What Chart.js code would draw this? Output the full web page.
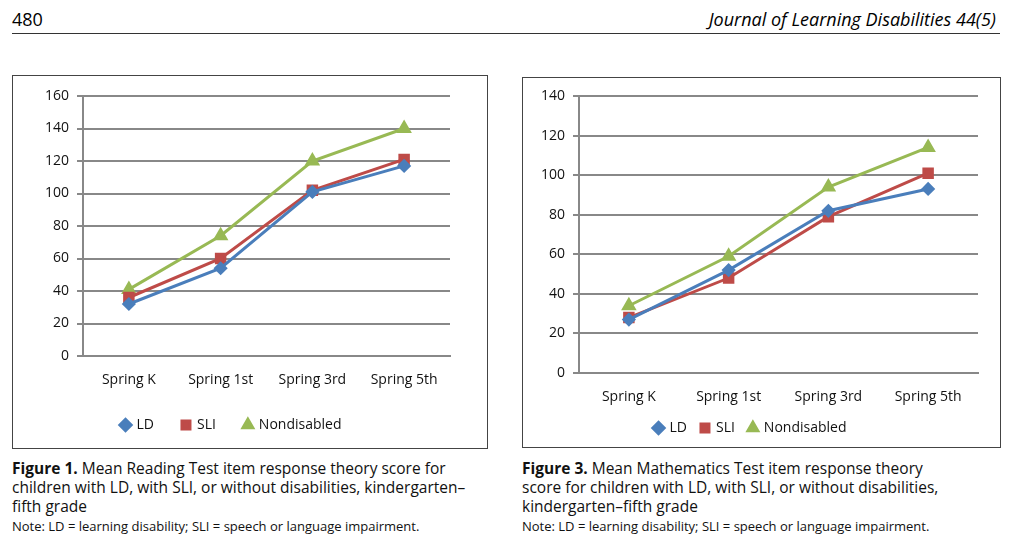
<!DOCTYPE html>
<html><head><meta charset="utf-8">
<script src="https://cdn.jsdelivr.net/npm/chart.js@4/dist/chart.umd.min.js"></script>
<style>
body{margin:0;width:1010px;height:557px;background:#fff;font-family:"Open Sans","Liberation Sans",sans-serif;position:relative;overflow:hidden}
.box{position:absolute;border:1px solid #444;background:#fff}
.cap{position:absolute;font-size:15.5px;line-height:19px;color:#111}
.note{font-size:13px}
</style></head><body>
<div style="position:absolute;left:12px;top:7px;font-size:18px;">480</div>
<div style="position:absolute;right:14px;top:7px;font-size:18px;font-style:italic;">Journal of Learning Disabilities 44(5)</div>
<div style="position:absolute;left:12px;top:33px;width:988px;border-top:1px solid #333"></div>
<div class="box" style="left:12px;top:75px;width:474px;height:372px"><canvas id="c1"></canvas></div>
<div class="box" style="left:522px;top:77px;width:477px;height:369px"><canvas id="c2"></canvas></div>
<div class="cap" style="left:12px;top:459px;width:470px"><b>Figure 1.</b> Mean Reading Test item response theory score for children with LD, with SLI, or without disabilities, kindergarten–fifth grade<br><span class="note">Note: LD = learning disability; SLI = speech or language impairment.</span></div>
<div class="cap" style="left:522px;top:459px;width:440px"><b>Figure 3.</b> Mean Mathematics Test item response theory score for children with LD, with SLI, or without disabilities, kindergarten–fifth grade<br><span class="note">Note: LD = learning disability; SLI = speech or language impairment.</span></div>
<script>
const categories=["Spring K","Spring 1st","Spring 3rd","Spring 5th"];
const seriesNames=["LD","SLI","Nondisabled"];
const readingLD=[32,54,101,117];
const readingSLI=[36,60,102,121];
const readingND=[41,74,120,140];
const mathLD=[27,52,82,93];
const mathSLI=[28,48,79,101];
const mathND=[34,59,94,114];
const colors=["#4a7ebb","#be4b48","#98b954"];
const shapes=["rectRot","rect","triangle"];
function make(id,data,max,yw,xh,pad,legPad){
  new Chart(document.getElementById(id),{type:'line',
    data:{labels:categories,datasets:data.map((d,i)=>({label:seriesNames[i],data:d,borderColor:colors[i],backgroundColor:colors[i],borderWidth:3,pointStyle:shapes[i],pointRadius:i==0?5:6,pointHoverRadius:6,tension:0}))},
    options:{responsive:true,maintainAspectRatio:false,animation:false,layout:{padding:pad},
      plugins:{legend:{position:'bottom',labels:{usePointStyle:true,boxWidth:8,boxHeight:8,padding:legPad,color:'#111',font:{size:14,family:"Open Sans"}}},tooltip:{enabled:false}},
      scales:{x:{offset:true,grid:{display:false},border:{color:'#888',width:2},ticks:{color:'#111',font:{size:14,family:"Open Sans"},padding:8},afterFit:s=>{s.height=xh;}},
        y:{min:0,max:max,ticks:{stepSize:20,color:'#111',font:{size:14,family:"Open Sans"},padding:8},grid:{color:'#888',lineWidth:2,tickLength:6},border:{color:'#888',width:2},afterFit:s=>{s.width=yw;}}}}});
}
make('c1',[readingLD,readingSLI,readingND],160,70,34,{top:20,right:37,bottom:6,left:0},28);
make('c2',[mathLD,mathSLI,mathND],140,56,34,{top:18,right:22,bottom:2,left:0},14);
</script></body></html>
